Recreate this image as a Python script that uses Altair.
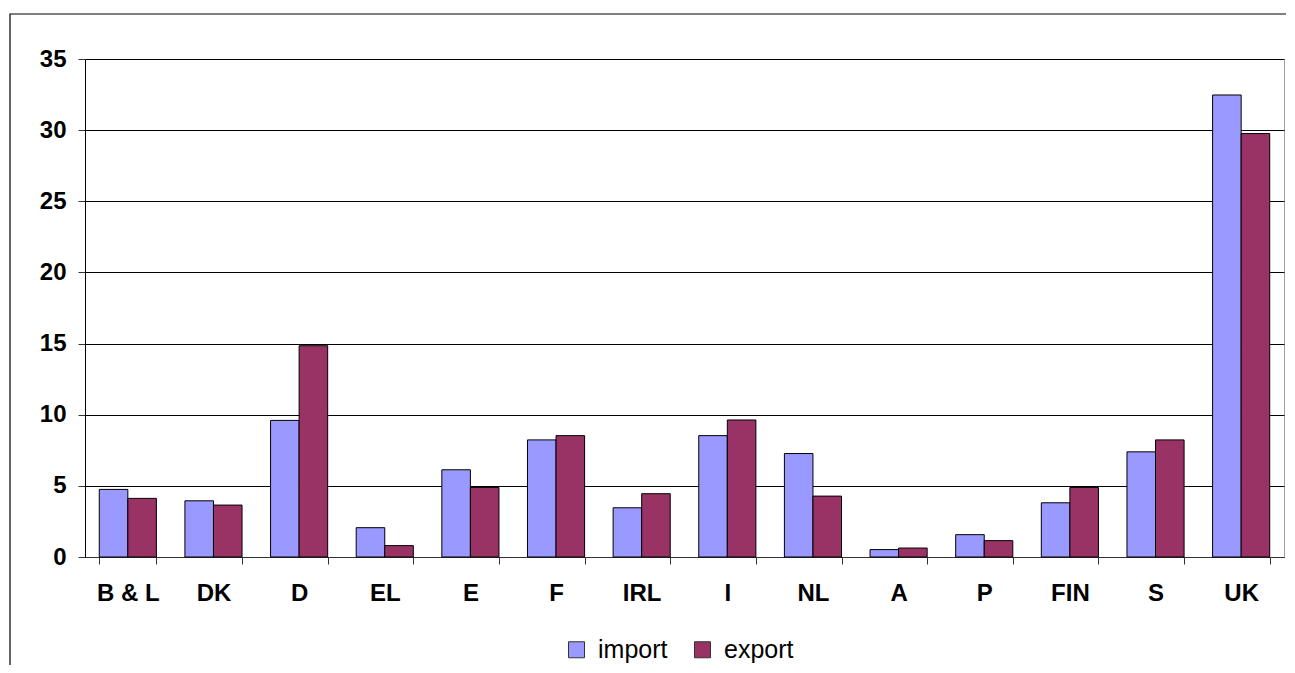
import altair as alt
import pandas as pd

countries = ["B & L", "DK", "D", "EL", "E", "F", "IRL", "I", "NL", "A", "P", "FIN", "S", "UK"]
imports = [4.75, 3.95, 9.6, 2.06, 6.13, 8.23, 3.46, 8.53, 7.27, 0.52, 1.57, 3.81, 7.39, 32.47]
exports = [4.12, 3.65, 14.85, 0.8, 4.89, 8.53, 4.45, 9.63, 4.28, 0.63, 1.15, 4.89, 8.23, 29.76]
series = ["import", "export"]
colors = ["#9999FF", "#993366"]
y_ticks = [0, 5, 10, 15, 20, 25, 30, 35]

rows = []
for c, i, e in zip(countries, imports, exports):
    rows.append({"country": c, "series": "import", "value": i})
    rows.append({"country": c, "series": "export", "value": e})
df = pd.DataFrame(rows)

FONT = "Liberation Sans"

bars = alt.Chart(df).mark_bar(stroke="black", strokeWidth=1).encode(
    x=alt.X(
        "country:N",
        sort=countries,
        scale=alt.Scale(paddingInner=0.333, paddingOuter=0.1667),
        axis=alt.Axis(
            title=None, labelAngle=0, labelFont=FONT, labelFontSize=24,
            labelFontWeight="bold", labelColor="black", labelPadding=17,
            tickBand="extent", tickSize=7, tickColor="#333", domainColor="#333",
            grid=False,
        ),
    ),
    xOffset=alt.XOffset("series:N", sort=series),
    y=alt.Y(
        "value:Q",
        scale=alt.Scale(domain=[0, 35], nice=False),
        axis=alt.Axis(
            title=None, values=y_ticks, labelFont=FONT, labelFontSize=24,
            labelFontWeight="bold", labelColor="black", labelPadding=12,
            tickSize=7, tickColor="#333", domainColor="black",
            grid=True, gridColor="black", gridWidth=1,
        ),
    ),
    color=alt.Color(
        "series:N",
        sort=series,
        scale=alt.Scale(domain=series, range=colors),
        legend=alt.Legend(
            title=None, orient="none", legendX=479, legendY=578,
            direction="horizontal", symbolType="square", symbolSize=256,
            symbolStrokeColor="#333", symbolStrokeWidth=1,
            labelFont=FONT, labelFontSize=25, labelColor="black",
            columnPadding=22, labelOffset=9, padding=0,
        ),
    ),
)

frame = alt.Chart(pd.DataFrame({"k": [0]})).mark_rect(
    filled=False, stroke="black", strokeWidth=1.2
).encode(
    x=alt.value(-75), x2=alt.value(1400), y=alt.value(-45), y2=alt.value(900)
)

chart = alt.layer(frame, bars).properties(
    width=1199,
    height=498,
    autosize=alt.AutoSizeParams(type="none"),
    padding={"left": 77, "top": 51, "right": 2, "bottom": 108},
).configure_view(stroke="#A0A0A0", strokeWidth=1)

chart.save("out.html", embed_options={"renderer": "svg", "actions": False})
